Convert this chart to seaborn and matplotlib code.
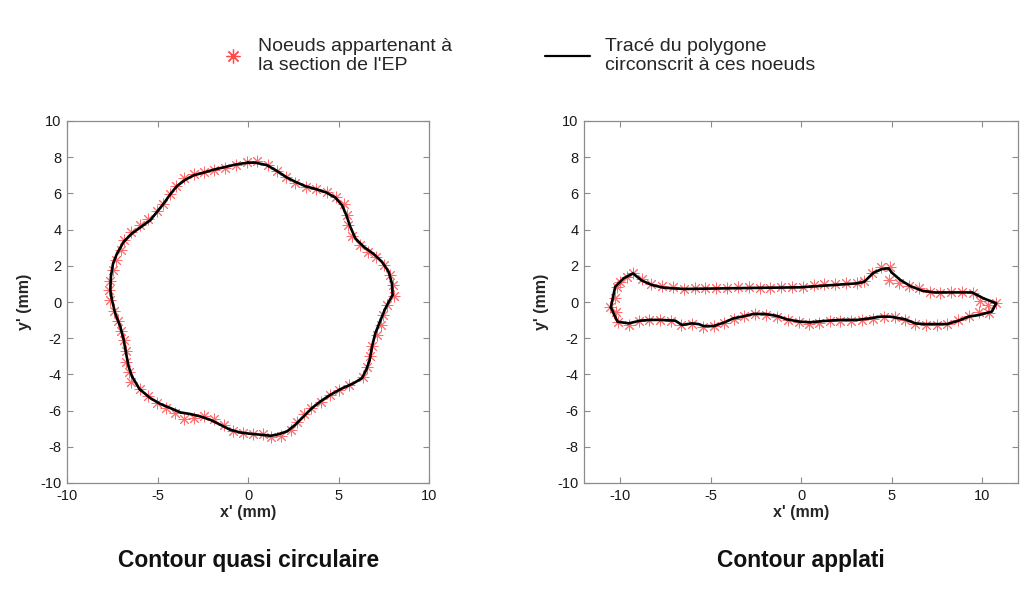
import numpy as np
import pandas as pd
import matplotlib
matplotlib.use("Agg")
import matplotlib.pyplot as plt
from matplotlib.lines import Line2D
import seaborn as sns

# ---- Nodes of the section, nearly circular contour (mm) ----
circ_x = [-0.06, 0.51, 1.08, 1.59, 2.09, 2.61, 3.18, 3.77, 4.34, 4.88,
          5.32, 5.45, 5.54, 5.74, 6.17, 6.61, 7.09, 7.51, 7.82, 8.01,
          8.06, 7.68, 7.46, 7.33, 7.11, 6.83, 6.76, 6.57, 6.33, 5.56,
          5.04, 4.52, 4.01, 3.47, 3.07, 2.72, 2.35, 1.80, 1.26, 0.80,
          0.27, -0.29, -0.84, -1.35, -1.87, -2.42, -3.01, -3.57, -4.03, -4.52,
          -5.04, -5.52, -6.00, -6.48, -6.61, -6.75, -6.74, -6.85, -7.03, -7.22,
          -7.40, -7.62, -7.71, -7.66, -7.49, -7.29, -7.03, -6.89, -6.48, -6.00,
          -5.52, -5.06, -4.73, -4.34, -3.97, -3.57, -3.01, -2.46, -1.87, -1.26,
          -0.67]
circ_y = [7.74, 7.79, 7.59, 7.26, 6.91, 6.58, 6.38, 6.25, 6.08, 5.79,
          5.39, 4.80, 4.23, 3.64, 3.14, 2.78, 2.48, 2.04, 1.49, 0.92,
          0.33, -0.17, -0.72, -1.27, -1.84, -2.43, -3.01, -3.57, -4.15, -4.58,
          -4.85, -5.15, -5.50, -5.83, -6.21, -6.65, -7.06, -7.39, -7.48, -7.32,
          -7.28, -7.21, -7.10, -6.82, -6.47, -6.32, -6.42, -6.47, -6.14, -5.86,
          -5.59, -5.22, -4.82, -4.41, -3.86, -3.29, -2.68, -2.11, -1.58, -1.03,
          -0.50, 0.11, 0.66, 1.18, 1.76, 2.32, 2.87, 3.42, 3.88, 4.25,
          4.61, 5.02, 5.44, 5.94, 6.40, 6.86, 7.06, 7.19, 7.32, 7.43,
          7.56]

# ---- Circumscribed polygon of the nearly circular section (mm) ----
circ_poly_x = [0.00, 0.40, 1.04, 1.59, 2.15, 2.61, 3.16, 3.77, 4.32, 4.82,
               5.19, 5.43, 5.65, 5.93, 6.39, 6.94, 7.40, 7.77, 7.95, 7.99,
               7.77, 7.55, 7.25, 7.03, 6.85, 6.72, 6.53, 6.29, 5.83, 5.10,
               4.54, 3.99, 3.53, 3.07, 2.61, 2.15, 1.59, 1.23, 0.67, 0.12,
               -0.43, -0.99, -1.54, -2.09, -2.65, -3.20, -3.75, -4.30, -4.86, -5.41,
               -5.78, -6.00, -6.42, -6.61, -6.75, -6.88, -7.07, -7.35, -7.53, -7.62,
               -7.59, -7.47, -7.25, -6.88, -6.42, -5.87, -5.41, -5.04, -4.67, -4.30,
               -3.94, -3.47, -3.01, -2.46, -1.87, -1.26, -0.67]
circ_poly_y = [7.70, 7.70, 7.56, 7.24, 6.87, 6.64, 6.40, 6.23, 6.05, 5.77,
               5.35, 4.80, 4.15, 3.51, 3.05, 2.65, 2.22, 1.67, 1.03, 0.39,
               0.00, -0.44, -1.18, -1.73, -2.46, -3.20, -3.75, -4.21, -4.49, -4.82,
               -5.13, -5.50, -5.86, -6.32, -6.78, -7.15, -7.33, -7.39, -7.33, -7.28,
               -7.21, -7.06, -6.78, -6.51, -6.32, -6.19, -6.10, -5.86, -5.63, -5.31,
               -5.00, -4.82, -4.12, -3.57, -2.83, -2.10, -1.36, -0.63, 0.11, 0.66,
               1.40, 2.13, 2.68, 3.33, 3.79, 4.19, 4.52, 4.98, 5.44, 5.96,
               6.40, 6.76, 7.00, 7.15, 7.32, 7.46, 7.60]

# ---- Nodes of the section, flattened contour (mm) ----
flat_x = [-10.60, -10.29, -10.19, -10.00, -9.64, -9.31, -8.81, -8.31, -7.71, -7.10,
          -6.51, -5.90, -5.31, -4.70, -4.11, -3.50, -2.91, -2.30, -1.71, -1.12,
          -0.52, 0.09, 0.68, 1.27, 1.88, 2.49, 3.08, 3.48, 3.91, 4.41,
          4.89, 4.87, 5.38, 5.93, 6.49, 7.13, 7.69, 8.29, 8.88, 9.49,
          9.90, 10.30, 10.78, 10.40, 9.81, 9.25, 8.66, 8.06, 7.50, 6.91,
          6.30, 5.75, 5.16, 4.55, 3.96, 3.35, 2.76, 2.16, 1.57, 0.96,
          0.41, -0.15, -0.74, -1.35, -1.94, -2.54, -3.15, -3.74, -4.29, -4.85,
          -5.44, -6.05, -6.65, -7.21, -7.80, -8.41, -9.00, -9.55, -10.16, -10.23]
flat_y = [-0.29, 0.20, 0.81, 1.12, 1.36, 1.62, 1.25, 0.98, 0.88, 0.85,
          0.72, 0.76, 0.76, 0.79, 0.79, 0.85, 0.81, 0.79, 0.79, 0.81,
          0.81, 0.85, 0.94, 0.98, 0.98, 1.03, 1.07, 1.18, 1.62, 1.92,
          1.95, 1.22, 1.03, 0.88, 0.76, 0.57, 0.52, 0.57, 0.57, 0.48,
          0.07, -0.17, -0.04, -0.59, -0.55, -0.77, -0.99, -1.22, -1.27, -1.27,
          -1.22, -0.99, -0.81, -0.81, -0.96, -0.99, -1.05, -1.03, -1.05, -1.18,
          -1.22, -1.09, -0.99, -0.81, -0.72, -0.68, -0.77, -0.96, -1.18, -1.33,
          -1.40, -1.22, -1.27, -1.03, -0.99, -0.99, -1.03, -1.27, -1.09, -0.55]

# ---- Circumscribed polygon of the flattened section (mm) ----
flat_poly_x = [-10.53, -10.29, -9.82, -9.31, -8.81, -8.26, -7.61, -6.51, -4.50, -2.50,
               -0.06, 1.50, 3.08, 3.48, 4.00, 4.46, 4.83, 5.01, 5.47, 6.03,
               6.67, 7.32, 8.06, 9.44, 10.08, 10.78, 10.54, 9.81, 9.25, 8.70,
               8.06, 6.76, 6.30, 5.75, 4.92, 4.37, 3.81, 3.08, 2.16, 1.24,
               0.50, -0.06, -0.79, -1.35, -1.99, -2.64, -3.28, -3.74, -4.29, -4.85,
               -5.40, -5.68, -6.05, -6.60, -6.97, -7.80, -8.35, -8.90, -9.55, -10.16,
               -10.34]
flat_poly_y = [-0.29, 0.85, 1.31, 1.58, 1.18, 0.94, 0.79, 0.72, 0.75, 0.78,
               0.81, 0.92, 1.03, 1.12, 1.62, 1.82, 1.86, 1.62, 1.22, 0.88,
               0.63, 0.53, 0.53, 0.53, 0.20, -0.07, -0.53, -0.72, -0.81, -1.03,
               -1.22, -1.22, -1.18, -0.96, -0.81, -0.81, -0.90, -0.99, -0.99, -1.05,
               -1.12, -1.09, -0.96, -0.77, -0.66, -0.66, -0.81, -0.90, -1.14, -1.33,
               -1.33, -1.22, -1.18, -1.27, -1.03, -0.99, -0.99, -1.03, -1.18, -1.09,
               -0.72]

node_label = "Noeuds appartenant à\nla section de l'EP"
line_label = "Tracé du polygone\ncirconscrit à ces noeuds"
titles = ["Contour quasi circulaire", "Contour applati"]

sns.set_theme(style="white")
plt.rcParams["font.family"] = ["Liberation Sans", "DejaVu Sans"]
plt.rcParams["axes.unicode_minus"] = False

NODE_COLOR = "#ff4a4a"
STAR = (8, 2, 0)
SPINE = "#8c8c8c"

fig = plt.figure(figsize=(10.36, 5.91), dpi=100)
fig.patch.set_facecolor("white")

W, H = 1036.0, 591.0
ax_left = fig.add_axes([67.3 / W, 1 - 483 / H, 361.7 / W, 362 / H])
ax_right = fig.add_axes([584.3 / W, 1 - 483 / H, 434 / W, 362 / H])


def closed(xs, ys):
    return pd.DataFrame({"x": list(xs) + [xs[0]], "y": list(ys) + [ys[0]]})


def draw(ax, nx, ny, px, py):
    sns.lineplot(data=closed(px, py), x="x", y="y", sort=False, estimator=None,
                 color="black", linewidth=1.9, ax=ax, zorder=3,
                 solid_joinstyle="round")
    sns.scatterplot(x=nx, y=ny, marker=STAR, s=62, color=NODE_COLOR,
                    linewidth=0.7, alpha=0.8, ax=ax, zorder=2)


draw(ax_left, circ_x, circ_y, circ_poly_x, circ_poly_y)
draw(ax_right, flat_x, flat_y, flat_poly_x, flat_poly_y)

ax_left.set_xlim(-10, 10)
ax_left.set_xticks(np.arange(-10, 11, 5))
ax_right.set_xlim(-12, 12)
ax_right.set_xticks(np.arange(-10, 11, 5))

for ax, title in zip([ax_left, ax_right], titles):
    ax.set_ylim(-10, 10)
    ax.set_yticks(np.arange(-10, 11, 2))
    ax.set_xlabel("x' (mm)", fontsize=11.5, fontweight="bold", labelpad=2)
    ax.set_ylabel("y' (mm)", fontsize=11.5, fontweight="bold", labelpad=6)
    ax.tick_params(axis="both", which="both", direction="in", length=4,
                   width=0.8, color=SPINE, labelsize=10.5, labelcolor="#1a1a1a",
                   top=True, right=True, bottom=True, left=True, pad=4)
    for sp in ax.spines.values():
        sp.set_visible(True)
        sp.set_color(SPINE)
        sp.set_linewidth(0.9)
    ax.set_facecolor("white")
    bb = ax.get_position()
    fig.text(bb.x0 + bb.width / 2, 1 - 560 / H, title, ha="center", va="center",
             fontsize=16.4, fontweight="bold", color="#111111")

# Legend entries above the panels
star_handle = Line2D([], [], linestyle="none", marker=STAR, markersize=10,
                     markeredgewidth=0.9, color=NODE_COLOR)
line_handle = Line2D([], [], color="black", linewidth=1.6)

fig.legend([star_handle], [node_label], loc="center left",
           bbox_to_anchor=(223 / W, 1 - 56 / H), frameon=False, fontsize=14,
           handlelength=1.0, handletextpad=0.8, borderpad=0, borderaxespad=0)
fig.legend([line_handle], [line_label], loc="center left",
           bbox_to_anchor=(545 / W, 1 - 56 / H), frameon=False, fontsize=14,
           handlelength=2.3, handletextpad=0.8, borderpad=0, borderaxespad=0)

fig.savefig("out.png", dpi=100, facecolor="white")
